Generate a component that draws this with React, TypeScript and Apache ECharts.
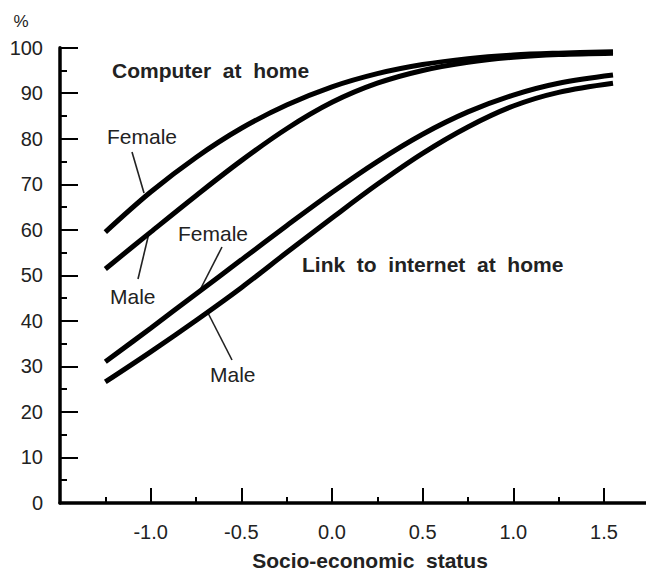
import React, { useEffect, useRef } from "react";
import * as echarts from "echarts";

const xValues = [-1.25, -1.0, -0.75, -0.5, -0.25, 0, 0.25, 0.5, 0.75, 1.0, 1.25, 1.55];
const computerFemale = [59.5, 68.3, 75.9, 82.3, 87.4, 91.4, 94.3, 96.3, 97.6, 98.4, 98.8, 99.1];
const computerMale = [51.4, 59.5, 67.5, 75.2, 82.2, 88.0, 92.2, 95.0, 96.8, 97.9, 98.5, 98.8];
const internetFemale = [31.0, 38.4, 45.9, 53.4, 60.9, 68.2, 75.0, 81.0, 85.9, 89.6, 92.2, 94.0];
const internetMale = [26.6, 33.2, 40.1, 47.3, 55.0, 62.6, 70.0, 76.8, 82.6, 87.2, 90.2, 92.2];
const xTickLabels = [-1.0, -0.5, 0.0, 0.5, 1.0, 1.5];

const FONT = "'Liberation Sans', Arial, Helvetica, sans-serif";
const INK = "#222";

function pairs(ys: number[]) {
  return xValues.map((x, i) => [x, ys[i]]);
}

export default function App() {
  const ref = useRef<HTMLDivElement>(null);
  useEffect(() => {
    if (!ref.current) return;
    const chart = echarts.init(ref.current, undefined, { renderer: "svg" });
    const lineSeries = (name: string, ys: number[]) => ({
      name,
      type: "line",
      data: pairs(ys),
      smooth: 0.35,
      showSymbol: false,
      symbol: "none",
      lineStyle: { color: "#000", width: 5 },
      silent: true,
    });
    const txt = (text: string, x: number, y: number, bold = false, align = "left", size = 21) => ({
      type: "text",
      x,
      y,
      silent: true,
      style: {
        text,
        fill: INK,
        fontFamily: FONT,
        fontSize: size,
        fontWeight: bold ? "bold" : "normal",
        align,
        verticalAlign: "middle",
      },
    });
    const leader = (x1: number, y1: number, x2: number, y2: number) => ({
      type: "line",
      silent: true,
      shape: { x1, y1, x2, y2 },
      style: { stroke: INK, lineWidth: 1.6 },
    });
    chart.setOption({
      animation: false,
      backgroundColor: "#fff",
      grid: {
        left: 60,
        top: 47.7,
        width: 634.6,
        height: 455.3,
        containLabel: false,
        outerBoundsMode: "none",
      },
      xAxis: {
        type: "value",
        min: -1.5,
        max: 2.0,
        interval: 0.5,
        splitLine: { show: false },
        axisLine: { show: true, onZero: false, lineStyle: { color: "#000", width: 3.5 } },
        axisTick: { show: true, inside: true, length: 15, lineStyle: { color: "#000", width: 2 } },
        minorTick: { show: true, splitNumber: 2, length: 6, lineStyle: { color: "#000", width: 2 } },
        axisLabel: {
          show: true,
          margin: 19,
          fontSize: 20,
          fontFamily: FONT,
          color: INK,
          formatter: (v: number) =>
            xTickLabels.some((t) => Math.abs(t - v) < 1e-6) ? v.toFixed(1) : "",
        },
      },
      yAxis: {
        type: "value",
        min: 0,
        max: 100,
        interval: 10,
        splitLine: { show: false },
        axisLine: { show: true, onZero: false, lineStyle: { color: "#000", width: 3.5 } },
        axisTick: { show: true, inside: true, length: 18, lineStyle: { color: "#000", width: 2 } },
        minorTick: { show: true, splitNumber: 2, length: 7, lineStyle: { color: "#000", width: 2 } },
        axisLabel: {
          show: true,
          margin: 17,
          fontSize: 20,
          fontFamily: FONT,
          color: INK,
          padding: [9, 0, 0, 0],
        },
      },
      series: [
        lineSeries("Computer Female", computerFemale),
        lineSeries("Computer Male", computerMale),
        lineSeries("Internet Female", internetFemale),
        lineSeries("Internet Male", internetMale),
      ],
      graphic: [
        txt("%", 21, 21, false, "center", 17),
        txt("Computer  at  home", 112, 70, true),
        txt("Female", 107, 136),
        txt("Male", 110, 296),
        txt("Female", 178, 233),
        txt("Male", 210, 374),
        txt("Link  to  internet  at  home", 302, 264, true),
        txt("Socio-economic  status", 370, 560, true, "center"),
        leader(132, 152, 144, 193),
        leader(138, 279, 149, 233),
        leader(222, 247, 200, 290),
        leader(232, 360, 208, 313),
      ],
    });
    return () => chart.dispose();
  }, []);
  return (
    <div
      ref={ref}
      style={{ position: "fixed", left: 0, top: 0, width: 646, height: 571, background: "#fff" }}
    />
  );
}
